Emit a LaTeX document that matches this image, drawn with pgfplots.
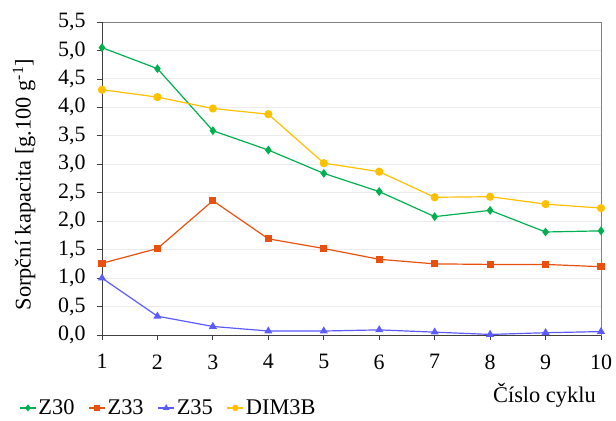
\documentclass[border=0pt]{standalone}
\usepackage{fontspec}
\setmainfont{Liberation Serif}
\usepackage{pgfplots}
\pgfplotsset{compat=1.18}
\definecolor{cZ30}{HTML}{00B050}
\definecolor{cZ33}{HTML}{E9500E}
\definecolor{cZ35}{HTML}{5B5BFF}
\definecolor{cDIM}{HTML}{FFC000}
\begin{document}
\begin{tikzpicture}
\useasboundingbox (-102bp,-86bp) rectangle (514bp,335bp);
\begin{axis}[
  scale only axis,
  width=499bp, height=313bp,
  xmin=1, xmax=10, ymin=0, ymax=5.5,
  xtick={1,...,10},
  ytick={0,0.5,...,5.5},
  /pgf/number format/assume math mode=true,
  tick label style={font=\fontsize{22}{26}\selectfont},
  yticklabel style={xshift=-8bp, /pgf/number format/.cd, use comma, fixed, fixed zerofill, precision=1},
  xticklabel style={yshift=-11bp},
  label style={font=\fontsize{22.5}{26}\selectfont},
  ymajorgrids,
  grid style={draw=black!8, line width=1pt},
  axis line style={draw=black!50, line width=1pt},
  tick align=outside,
  xtick pos=bottom, ytick pos=left,
  major tick length=5bp,
  tick style={draw=black!75, line width=0.8pt},
  xlabel={Číslo cyklu},
  xlabel style={at={(rel axis cs:0.99,-0.192)}, anchor=east, inner sep=0pt},
  ylabel={Sorpční kapacita [g.100 g\textsuperscript{-1}]},
  ylabel style={at={(rel axis cs:-0.156,0.48)}, anchor=center, inner sep=0pt},
  legend columns=-1,
  legend style={draw=none, fill=none, inner sep=0pt, at={(rel axis cs:-0.166,-0.233)}, anchor=west,
    font=\fontsize{22.5}{26}\selectfont, /tikz/every even column/.append style={column sep=12bp}},
  legend image code/.code={
    \draw[mark repeat=2,mark phase=2, mark options={scale=0.75}] plot coordinates {(0cm,0cm) (0.28cm,0cm) (0.56cm,0cm)};
  },
  every axis plot/.append style={line width=1.2pt},
]
\draw[black!75, line width=1pt] (rel axis cs:0,1) -- (rel axis cs:0,0) -- (rel axis cs:1,0);
\addplot[cZ30, mark=diamond*, mark size=3.5pt] coordinates {
(1,5.05) (2,4.68) (3,3.59) (4,3.25) (5,2.84) (6,2.52) (7,2.08) (8,2.19) (9,1.81) (10,1.83)};
\addlegendentry{Z30}
\addplot[cZ33, mark=square*, mark size=3pt] coordinates {
(1,1.26) (2,1.52) (3,2.36) (4,1.69) (5,1.52) (6,1.33) (7,1.25) (8,1.24) (9,1.24) (10,1.20)};
\addlegendentry{Z33}
\addplot[cZ35, mark=triangle*, mark size=3.5pt] coordinates {
(1,1.00) (2,0.33) (3,0.15) (4,0.07) (5,0.07) (6,0.09) (7,0.05) (8,0.01) (9,0.04) (10,0.06)};
\addlegendentry{Z35}
\addplot[cDIM, mark=*, mark size=3.5pt] coordinates {
(1,4.31) (2,4.18) (3,3.98) (4,3.88) (5,3.02) (6,2.87) (7,2.42) (8,2.43) (9,2.30) (10,2.23)};
\addlegendentry{DIM3B}
\end{axis}
\end{tikzpicture}
\end{document}
